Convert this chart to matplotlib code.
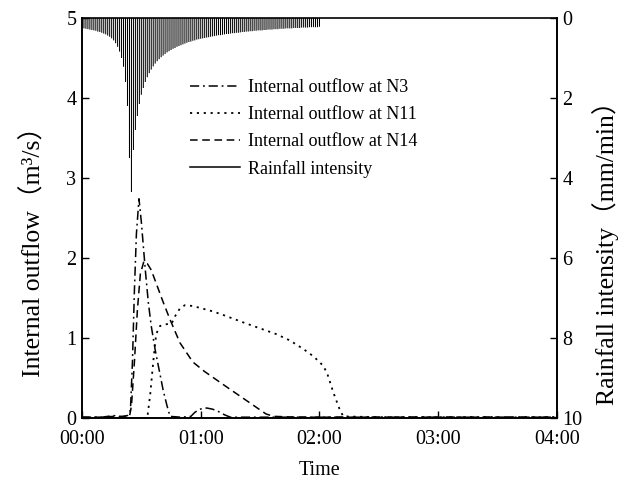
import matplotlib
matplotlib.use('Agg')
import matplotlib.pyplot as plt
from matplotlib.lines import Line2D

# time in minutes from 00:00
n3_t = [0, 10, 16, 20, 23, 24.5, 25.5, 26.5, 27.5, 28.8, 30, 31, 32, 33.5,
        35, 37, 39, 41, 43, 44.5, 50, 55, 57, 59.5, 63, 66, 69, 72, 75,
        90, 120, 180, 240]
n3_q = [0.01, 0.01, 0.03, 0.02, 0.03, 0.1, 0.7, 1.6, 2.3, 2.74, 2.45, 2.15,
        1.85, 1.45, 1.15, 0.85, 0.6, 0.35, 0.15, 0.02, 0.01, 0.02, 0.07,
        0.11, 0.125, 0.11, 0.08, 0.04, 0.01, 0.01, 0.01, 0.01, 0.01]

n11_t = [0, 30, 33, 34.5, 36, 37.5, 39.4, 42, 45.3, 47, 49.5, 52, 56, 65,
         70, 82, 98, 105, 112, 117, 122, 124, 127, 130, 132, 150, 180, 240]
n11_q = [0.0, 0.0, 0.0, 0.3, 0.7, 1.05, 1.15, 1.17, 1.18, 1.27, 1.37, 1.41,
         1.40, 1.34, 1.30, 1.19, 1.05, 0.97, 0.86, 0.77, 0.65, 0.55, 0.32,
         0.12, 0.02, 0.01, 0.01, 0.01]

n14_t = [0, 10, 16, 20, 24, 25, 26.5, 28, 29.5, 31.3, 33, 35, 38, 41, 44.5,
         49.5, 56, 62, 73, 83, 93, 97, 110, 150, 200, 240]
n14_q = [0.01, 0.01, 0.02, 0.01, 0.02, 0.15, 0.7, 1.35, 1.8, 1.96, 1.93,
         1.85, 1.65, 1.45, 1.23, 0.94, 0.7, 0.58, 0.39, 0.22, 0.05, 0.02,
         0.01, 0.01, 0.01, 0.01]

# rainfall intensity (mm/min), one value per minute, 0..120
rain_q = [0.25, 0.26, 0.27, 0.28, 0.29, 0.30, 0.31, 0.32, 0.34, 0.35,
          0.37, 0.39, 0.41, 0.44, 0.47, 0.51, 0.56, 0.63, 0.72, 0.84,
          1.0, 1.22, 1.6, 2.2, 3.5, 4.35,
          3.3, 2.8, 2.45, 2.15, 1.92, 1.75, 1.6, 1.48, 1.38, 1.29,
          1.21, 1.14, 1.08, 1.03, 0.98, 0.94, 0.9, 0.86, 0.83, 0.8,
          0.77, 0.75, 0.72, 0.7, 0.68, 0.66, 0.64, 0.62, 0.6, 0.59,
          0.57, 0.56, 0.54, 0.53, 0.52, 0.51, 0.5, 0.49, 0.48, 0.47,
          0.46, 0.45, 0.44, 0.43, 0.43, 0.42, 0.41, 0.4, 0.4, 0.39,
          0.38, 0.38, 0.37, 0.37, 0.36, 0.35, 0.35, 0.34, 0.34, 0.33,
          0.33, 0.32, 0.32, 0.31, 0.31, 0.31, 0.3, 0.3, 0.29, 0.29,
          0.29, 0.28, 0.28, 0.28, 0.27, 0.27, 0.27, 0.26, 0.26, 0.26,
          0.26, 0.25, 0.25, 0.25, 0.25, 0.24, 0.24, 0.24, 0.24, 0.23,
          0.23, 0.23, 0.23, 0.23, 0.22]
rain_t = list(range(len(rain_q)))

time_ticks = [0, 60, 120, 180, 240]
time_labels = ['00:00', '01:00', '02:00', '03:00', '04:00']
labels = ['Internal outflow at N3', 'Internal outflow at N11',
          'Internal outflow at N14', 'Rainfall intensity']

plt.rcParams['font.family'] = ['Liberation Serif', 'Noto Sans CJK SC']
plt.rcParams['font.size'] = 14.5


def main():
    fig = plt.figure(figsize=(6.32, 4.82), dpi=100)
    ax = fig.add_axes([0.1297, 0.1328, 0.7516, 0.8299])
    ax2 = ax.twinx()

    l3, = ax.plot(n3_t, n3_q, color='black', lw=1.1, dashes=(6, 2.5, 1.2, 2.5))
    l11, = ax.plot(n11_t, n11_q, color='black', lw=1.3, dashes=(1.2, 2.6))
    l14, = ax.plot(n14_t, n14_q, color='black', lw=1.1, dashes=(5, 3))

    # rainfall hangs from the top of the inverted right axis
    ax2.vlines(rain_t, 0, rain_q, color='black', lw=0.75, snap=False)
    ax2.set_ylim(10, 0)
    ax2.set_yticks([0, 2, 4, 6, 8, 10])

    ax.set_xlim(0, 240)
    ax.set_ylim(0, 5)
    ax.set_xticks(time_ticks, time_labels)
    ax.set_yticks([0, 1, 2, 3, 4, 5])

    ax.tick_params(direction='in', length=5, width=1, pad=4)
    ax.tick_params(axis='x', pad=9)
    ax2.tick_params(direction='in', length=5, width=1, pad=4)
    for a in (ax, ax2):
        for s in a.spines.values():
            s.set_linewidth(1.2)
    ax.spines['top'].set_visible(False)

    ax.set_xlabel('Time', labelpad=8)
    ax.set_ylabel('Internal outflow\uff08m\u00b3/s\uff09', fontsize=18.5)
    ax2.set_ylabel('Rainfall intensity\uff08mm/min\uff09', fontsize=18.5)
    ax.yaxis.set_label_coords(-0.076, 0.4325)
    ax2.yaxis.set_label_coords(1.073, 0.4275)

    rain_handle = Line2D([], [], color='black', lw=1.1)
    ax2.legend([l3, l11, l14, rain_handle], labels, frameon=False,
               loc='upper left', bbox_to_anchor=(0.227, 0.8475),
               borderaxespad=0, borderpad=0, fontsize=13,
               handlelength=2.8, handletextpad=0.45, labelspacing=0.55)

    fig.savefig('out.png', dpi=100)


if __name__ == '__main__':
    main()
